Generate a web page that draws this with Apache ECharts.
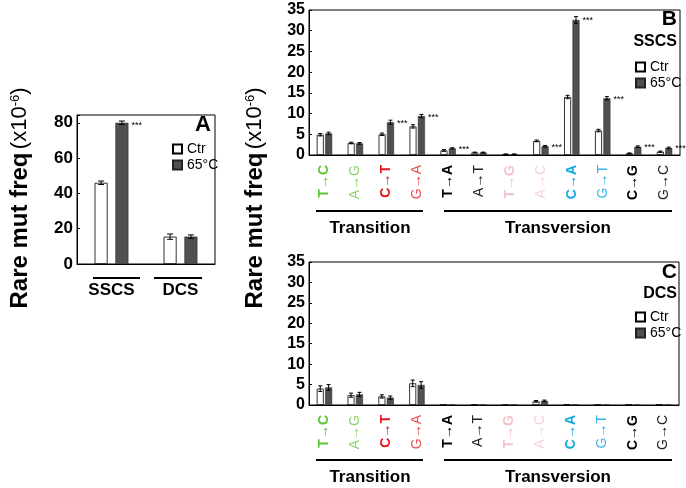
<!DOCTYPE html>
<html>
<head>
<meta charset="utf-8">
<script src="https://cdn.jsdelivr.net/npm/echarts@6/dist/echarts.min.js"></script>
<style>
html,body{margin:0;padding:0;background:#fff;}
#main{width:686px;height:488px;}
</style>
</head>
<body>
<div id="main"></div>
<script>
// panel A: SSCS / DCS totals
var groupCats = ['SSCS', 'DCS'];
var aCtr = [46, 15.5];
var aCtrErr = [1, 1.5];
var aHot = [80, 15.5];
var aHotErr = [1, 1];
var aSig = [1, 0];

// panels B/C: mutation classes
var mutCats = ['T→C', 'A→G', 'C→T', 'G→A', 'T→A', 'A→T', 'T→G', 'A→C', 'C→A', 'G→T', 'C→G', 'G→C'];
var ssCtr = [4.9, 2.9, 5.0, 6.9, 1.1, 0.6, 0.2, 3.4, 14.0, 5.9, 0.4, 0.8];
var ssCtrErr = [0.3, 0.2, 0.3, 0.4, 0.2, 0.1, 0.05, 0.2, 0.4, 0.3, 0.1, 0.15];
var ssHot = [5.2, 2.8, 7.9, 9.4, 1.6, 0.6, 0.2, 2.1, 32.6, 13.7, 2.0, 1.7];
var ssHotErr = [0.3, 0.2, 0.5, 0.4, 0.15, 0.1, 0.05, 0.2, 0.8, 0.4, 0.2, 0.2];
var ssSig = [0, 0, 1, 1, 1, 0, 0, 1, 1, 1, 1, 1];
var dcCtr = [4.0, 2.4, 2.1, 5.3, 0.05, 0.1, 0.05, 0.9, 0.1, 0.05, 0.05, 0.1];
var dcCtrErr = [0.7, 0.5, 0.4, 0.8, 0, 0, 0, 0.2, 0, 0, 0, 0];
var dcHot = [4.3, 2.6, 1.8, 4.9, 0.1, 0.1, 0.1, 1.0, 0.1, 0.05, 0.05, 0.1];
var dcHotErr = [0.7, 0.5, 0.4, 0.8, 0, 0, 0, 0.2, 0, 0, 0, 0];

var mutColors = ['#5cc837', '#8dd46b', '#e8141e', '#ee4a50', '#000', '#222', '#f4c2c8', '#f6d2d6', '#17a9e1', '#3cb5e6', '#000', '#222'];
var mutBold = [1, 0, 1, 0, 1, 0, 1, 0, 1, 0, 1, 0];

var FONT = '"Liberation Sans", Arial, sans-serif';
var HOT = '#505050';

var mutRich = {};
mutCats.forEach(function (c, i) {
    mutRich['m' + i] = {
        color: mutColors[i],
        fontWeight: mutBold[i] ? 'bold' : 'normal',
        fontSize: 14,
        fontFamily: FONT
    };
});

function barData(vals, sig, w, dy) {
    return vals.map(function (v, i) {
        var d = { value: v };
        if (sig && sig[i]) {
            d.label = {
                show: true, formatter: '***', position: [w + 3, dy],
                align: 'left', verticalAlign: 'middle',
                fontSize: 9, color: '#000', fontFamily: FONT
            };
        }
        return d;
    });
}

function errData(vals, errs) {
    return vals.map(function (v, i) { return [i, v, errs[i]]; });
}

function errSeries(vals, errs, xi, yi, offset, cap) {
    return {
        type: 'custom',
        xAxisIndex: xi,
        yAxisIndex: yi,
        z: 5,
        silent: true,
        data: errData(vals, errs),
        renderItem: function (params, api) {
            var i = api.value(0), v = api.value(1), e = api.value(2);
            if (!e) return null;
            var hi = api.coord([i, v + e]);
            var lo = api.coord([i, Math.max(0, v - e)]);
            var x = hi[0] + offset;
            var st = { stroke: '#000', lineWidth: 1 };
            return {
                type: 'group',
                children: [
                    { type: 'line', shape: { x1: x, y1: hi[1], x2: x, y2: lo[1] }, style: st },
                    { type: 'line', shape: { x1: x - cap, y1: hi[1], x2: x + cap, y2: hi[1] }, style: st },
                    { type: 'line', shape: { x1: x - cap, y1: lo[1], x2: x + cap, y2: lo[1] }, style: st }
                ]
            };
        }
    };
}

function yAxisCfg(gi, max, interval, size) {
    return {
        type: 'value', gridIndex: gi, min: 0, max: max, interval: interval,
        axisLine: { show: true, lineStyle: { color: '#000' } },
        axisTick: { show: true, inside: true, length: 3, lineStyle: { color: '#000' } },
        splitLine: { show: false },
        axisLabel: {
            margin: 4, color: '#000', fontWeight: 'bold', fontSize: size, fontFamily: FONT,
            formatter: function (v) { return v % interval === 0 ? v : ''; }
        }
    };
}

function mutXAxis(gi) {
    return {
        type: 'category', gridIndex: gi, data: mutCats,
        axisLine: { lineStyle: { color: '#000' } },
        axisTick: { show: false },
        axisLabel: {
            interval: 0, rotate: 90, margin: 10,
            formatter: function (v, i) { return '{m' + i + '|' + v + '}'; },
            rich: mutRich
        }
    };
}

function legendCfg(left, top) {
    return {
        data: ['Ctr', '65°C'], orient: 'vertical', left: left, top: top,
        itemWidth: 9, itemHeight: 9, itemGap: 2, icon: 'rect', selectedMode: false,
        textStyle: { fontSize: 14, lineHeight: 14, color: '#000', fontFamily: FONT }
    };
}

var ctrStyle = { color: '#fff', borderColor: '#000', borderWidth: 0.8 };
var hotStyle = { color: HOT, borderColor: '#222', borderWidth: 0.5 };

var titleRich = {
    b: { fontSize: 24, fontWeight: 'bold', fontFamily: FONT, color: '#000' },
    n: { fontSize: 22, fontFamily: FONT, color: '#000' },
    s: { fontSize: 13, fontFamily: FONT, color: '#000', padding: [0, 0, 10, 0] }
};
var titleText = '{b|Rare mut freq} {n|(x10}{s|-6}{n|)}';

function groupLine(x1, x2, y) {
    return { type: 'line', shape: { x1: x1, y1: y, x2: x2, y2: y }, style: { stroke: '#000', lineWidth: 2 } };
}
function groupText(t, x, y) {
    return { type: 'text', x: x, y: y, style: { text: t, align: 'center', verticalAlign: 'middle', fontSize: 17, fontWeight: 'bold', fontFamily: FONT, fill: '#000' } };
}
function panelText(t, x, y, size) {
    return { type: 'text', x: x, y: y, style: { text: t, align: 'right', verticalAlign: 'middle', fontSize: size, fontWeight: 'bold', fontFamily: FONT, fill: '#000' } };
}

var chart = echarts.init(document.getElementById('main'));
var option = {
    animation: false,
    backgroundColor: '#fff',
    grid: [
        { left: 77, top: 115, width: 138, height: 149, show: true, borderColor: '#000', borderWidth: 1 },
        { left: 309, top: 10, width: 371, height: 145, show: true, borderColor: '#000', borderWidth: 1 },
        { left: 309, top: 262, width: 370, height: 143, show: true, borderColor: '#000', borderWidth: 1 }
    ],
    xAxis: [
        {
            type: 'category', gridIndex: 0, data: groupCats,
            axisLine: { lineStyle: { color: '#000' } }, axisTick: { show: false },
            axisLabel: { margin: 18, color: '#000', fontWeight: 'bold', fontSize: 17, fontFamily: FONT }
        },
        mutXAxis(1),
        mutXAxis(2)
    ],
    yAxis: [
        yAxisCfg(0, 84.4, 20, 17),
        yAxisCfg(1, 35, 5, 16),
        yAxisCfg(2, 35, 5, 16)
    ],
    legend: [legendCfg(167, 137), legendCfg(630, 55), legendCfg(630, 305)],
    series: [
        { name: 'Ctr', type: 'bar', xAxisIndex: 0, yAxisIndex: 0, barWidth: 13, barGap: '60%', itemStyle: ctrStyle, data: barData(aCtr, null, 13, 0) },
        { name: '65°C', type: 'bar', xAxisIndex: 0, yAxisIndex: 0, barWidth: 13, barGap: '60%', itemStyle: hotStyle, data: barData(aHot, aSig, 13, 3) },
        errSeries(aCtr, aCtrErr, 0, 0, -10.4, 3),
        errSeries(aHot, aHotErr, 0, 0, 10.4, 3),
        { name: 'Ctr', type: 'bar', xAxisIndex: 1, yAxisIndex: 1, barWidth: 7, barGap: '20%', itemStyle: ctrStyle, data: barData(ssCtr, null, 7, 0) },
        { name: '65°C', type: 'bar', xAxisIndex: 1, yAxisIndex: 1, barWidth: 7, barGap: '20%', itemStyle: hotStyle, data: barData(ssHot, ssSig, 7, 1) },
        errSeries(ssCtr, ssCtrErr, 1, 1, -4.2, 2),
        errSeries(ssHot, ssHotErr, 1, 1, 4.2, 2),
        { name: 'Ctr', type: 'bar', xAxisIndex: 2, yAxisIndex: 2, barWidth: 7, barGap: '20%', itemStyle: ctrStyle, data: barData(dcCtr, null, 7, 0) },
        { name: '65°C', type: 'bar', xAxisIndex: 2, yAxisIndex: 2, barWidth: 7, barGap: '20%', itemStyle: hotStyle, data: barData(dcHot, null, 7, 0) },
        errSeries(dcCtr, dcCtrErr, 2, 2, -4.2, 2),
        errSeries(dcHot, dcHotErr, 2, 2, 4.2, 2)
    ],
    graphic: [
        { type: 'text', x: 20, y: 198, rotation: Math.PI / 2, style: { text: titleText, rich: titleRich, align: 'center', verticalAlign: 'middle' } },
        { type: 'text', x: 255, y: 198, rotation: Math.PI / 2, style: { text: titleText, rich: titleRich, align: 'center', verticalAlign: 'middle' } },
        groupLine(93, 140, 278), groupLine(154, 202, 278),
        groupLine(316, 423, 211), groupLine(444, 672, 211),
        groupText('Transition', 370, 228), groupText('Transversion', 558, 228),
        groupLine(316, 423, 460), groupLine(444, 672, 460),
        groupText('Transition', 370, 477), groupText('Transversion', 558, 477),
        panelText('A', 211, 125, 22),
        panelText('B', 677, 19, 21), panelText('SSCS', 677, 42, 16),
        panelText('C', 677, 272, 21), panelText('DCS', 677, 294, 16)
    ]
};
chart.setOption(option);
</script>
</body>
</html>
